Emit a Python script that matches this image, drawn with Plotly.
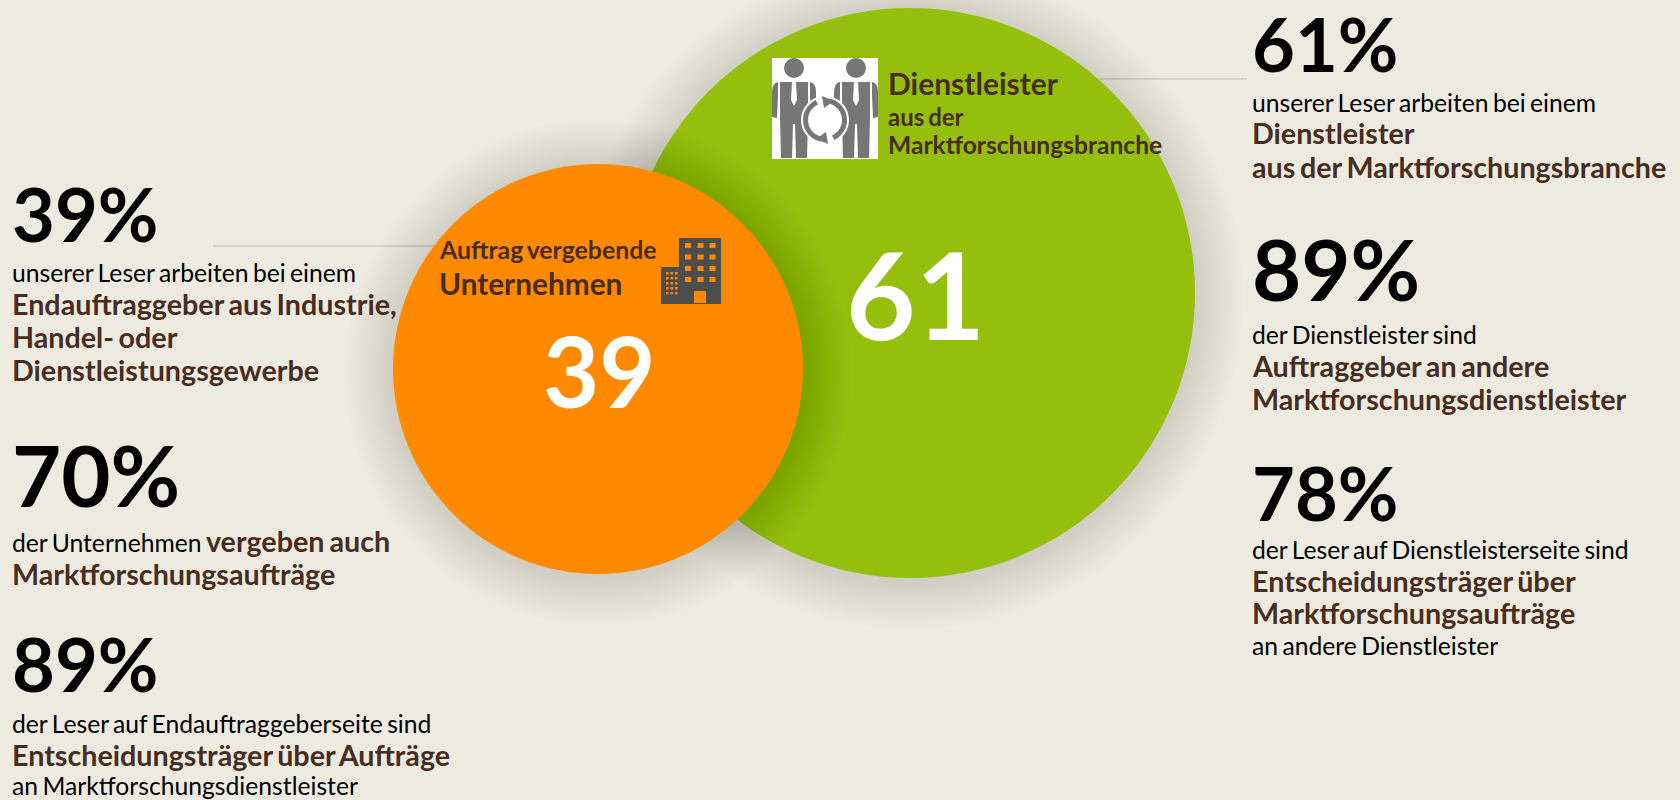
import math
import plotly.graph_objects as go

# ---- data ----
segments = ["Dienstleister", "Auftrag vergebende Unternehmen"]
values = [61, 39]

BG = "#EDEBE0"
GREEN = "#95BF0D"
ORANGE = "#FF8A00"
BROWN = "#482D1E"
BLACK = "#000000"
GREY = "#767676"
DARK = "#4D4D4D"

# geometry (pixels of the 1680x800 page, used as axis units)
cx = [910, 598]
cy = [293, 369]
rad = [285, 205]
label_size = [120, 97]

fig = go.Figure()


def shadow(i):
    n, reach, a = 14, 48, 0.0095
    xs = [cx[i]] * n
    ys = [cy[i] + 3] * n
    sizes = [2 * (rad[i] + reach * (n - k) / n) for k in range(n)]
    fig.add_trace(go.Scatter(x=xs, y=ys, mode="markers", hoverinfo="skip", showlegend=False,
                             marker=dict(size=sizes, color=f"rgba(40,40,30,{a})", line_width=0)))


colors = [GREEN, ORANGE]
for i in range(2):
    shadow(i)
    fig.add_trace(go.Scatter(x=[cx[i]], y=[cy[i]], mode="markers", name=segments[i], hoverinfo="skip",
                             showlegend=False, marker=dict(size=2 * rad[i], color=colors[i], line_width=0)))

annos = []


def T(x, y, text, size, color=BLACK, weight=400):
    annos.append(dict(x=x, y=y, text=text, xref="x", yref="y", showarrow=False, xanchor="left",
                      yanchor="middle", align="left", borderpad=0,
                      font=dict(family="Lato", size=size, color=color, weight=weight)))


def head(x, y, text, size=74):
    T(x, y, text, size, BLACK, 700)


def reg(x, y, text):
    T(x, y, text, 24.7)


def br(x, y, text):
    T(x, y, text, 28.7, BROWN, 700)


# value labels
centers = [915, 599]
centers_y = [294, 370]
for i in range(2):
    annos.append(dict(x=centers[i], y=centers_y[i], text=str(values[i]), showarrow=False, xanchor="center",
                      yanchor="middle", borderpad=0,
                      font=dict(family="Lato", size=label_size[i], color="white", weight=700)))

# right column
RX = 1250.5
head(RX, 43, "61%")
reg(RX, 102, "unserer Leser arbeiten bei einem")
br(RX, 133, "Dienstleister")
br(RX, 167, "aus der Marktforschungsbranche")
head(RX, 268, "89%", 85)
reg(RX, 334, "der Dienstleister sind")
br(RX, 366, "Auftraggeber an andere")
br(RX, 399, "Marktforschungsdienstleister")
head(RX, 492, "78%")
reg(RX, 549, "der Leser auf Dienstleisterseite sind")
br(RX, 581, "Entscheidungsträger über")
br(RX, 613, "Marktforschungsaufträge")
reg(RX, 645, "an andere Dienstleister")

# left column
LX = 11
head(LX, 213, "39%")
reg(LX, 272, "unserer Leser arbeiten bei einem")
br(LX, 304, "Endauftraggeber aus Industrie,")
br(LX, 337, "Handel- oder")
br(LX, 370, "Dienstleistungsgewerbe")
head(LX, 474, "70%", 85)
reg(LX, 541, f'der Unternehmen <span style="font-size:28.7px;color:{BROWN}"><b>vergeben auch</b></span>')
br(LX, 574, "Marktforschungsaufträge")
head(LX, 663, "89%")
reg(LX, 723, "der Leser auf Endauftraggeberseite sind")
br(LX, 755, "Entscheidungsträger über Aufträge")
reg(LX, 785.5, "an Marktforschungsdienstleister")

# labels in circles
T(887, 83, "Dienstleister", 30, BROWN, 700)
T(887, 116, "aus der", 24, BROWN, 700)
T(887, 144, "Marktforschungsbranche", 24.6, BROWN, 700)
T(438, 249, "Auftrag vergebende", 24.8, BROWN, 700)
T(438, 283, "Unternehmen", 29.8, BROWN, 700)

shapes = []


def rect(x0, y0, x1, y1, fill, layer="above"):
    shapes.append(dict(type="rect", x0=x0, y0=y0, x1=x1, y1=y1, fillcolor=fill, line_width=0, layer=layer))


def circ(xc, yc, r, fill=None, line=None, w=0):
    shapes.append(dict(type="circle", x0=xc - r, y0=yc - r, x1=xc + r, y1=yc + r, fillcolor=fill or "rgba(0,0,0,0)",
                       line=dict(color=line or "rgba(0,0,0,0)", width=w), layer="above"))


def path(d, fill=None, line=None, w=0):
    shapes.append(dict(type="path", path=d, fillcolor=fill or "rgba(0,0,0,0)",
                       line=dict(color=line or "rgba(0,0,0,0)", width=w), layer="above"))


def arc(xc, yc, r, a0, a1, w=5):
    pts = [(xc + r * math.cos(math.radians(a0 + (a1 - a0) * k / 16)),
            yc + r * math.sin(math.radians(a0 + (a1 - a0) * k / 16))) for k in range(17)]
    d = "M" + " L".join(f"{x:.1f},{y:.1f}" for x, y in pts)
    path(d, None, GREY, w)


# leader lines
shapes.append(dict(type="line", x0=213, x1=440, y0=246, y1=246, line=dict(color="#BDBBB3", width=1), layer="below"))
shapes.append(dict(type="line", x0=1100, x1=1247, y0=79, y1=79, line=dict(color="#BDBBB3", width=1), layer="below"))

# people icon
rect(772, 58, 878, 159, "white")


def person(c):
    circ(c, 68, 10, GREY)
    # torso and legs
    path(f"M{c-14},82 L{c+14},82 L{c+14},118 L{c+13},158 L{c+2},158 L{c+1},124 L{c-1},124 L{c-2},158 L{c-13},158 "
         f"L{c-14},118 Z", GREY)
    # arms
    path(f"M{c-16},82 Q{c-22},83 {c-22},92 L{c-22},117 L{c-17},118 L{c-16},95 Z", GREY)
    path(f"M{c+16},82 Q{c+22},83 {c+22},92 L{c+22},117 L{c+17},118 L{c+16},95 Z", GREY)
    # tie
    path(f"M{c-2},82 L{c+2},82 L{c+3},100 L{c},106 L{c-3},100 Z", "white")


person(794)
person(856)
circ(825, 120, 24, "white")
arc(825, 120, 19.5, 100, 245)
arc(825, 120, 19.5, 280, 425)
path("M822,96 L834,101 L824,108 Z", GREY)
path("M828,144 L816,139 L826,132 Z", GREY)

# building icon
rect(679, 238, 721, 304, DARK)
rect(661, 267, 680, 304, DARK)
for wx in (685, 697.5, 709.5):
    for wy in (243, 254.5, 266, 277):
        rect(wx, wy, wx + 6, wy + 5, ORANGE)
for wx in (666, 670.5, 675):
    for wy in (272, 277, 282, 287, 292):
        rect(wx, wy, wx + 2.5, wy + 2.5, ORANGE)
rect(694, 291, 706, 303, ORANGE)

fig.update_layout(
    width=1680, height=800, margin=dict(l=0, r=0, t=0, b=0),
    paper_bgcolor=BG, plot_bgcolor=BG, showlegend=False,
    xaxis=dict(range=[0, 1680], visible=False, fixedrange=True),
    yaxis=dict(range=[800, 0], visible=False, fixedrange=True),
    annotations=annos, shapes=shapes,
)
page_js = (
    "document.body.style.margin='0';document.body.style.overflow='hidden';"
    f"document.body.style.background='{BG}';"
    "document.querySelectorAll('.annotation-text').forEach(function(t){t.style.wordSpacing='-0.08em';});"
)
fig.write_html("out.html", config={"displayModeBar": False}, post_script=page_js)
